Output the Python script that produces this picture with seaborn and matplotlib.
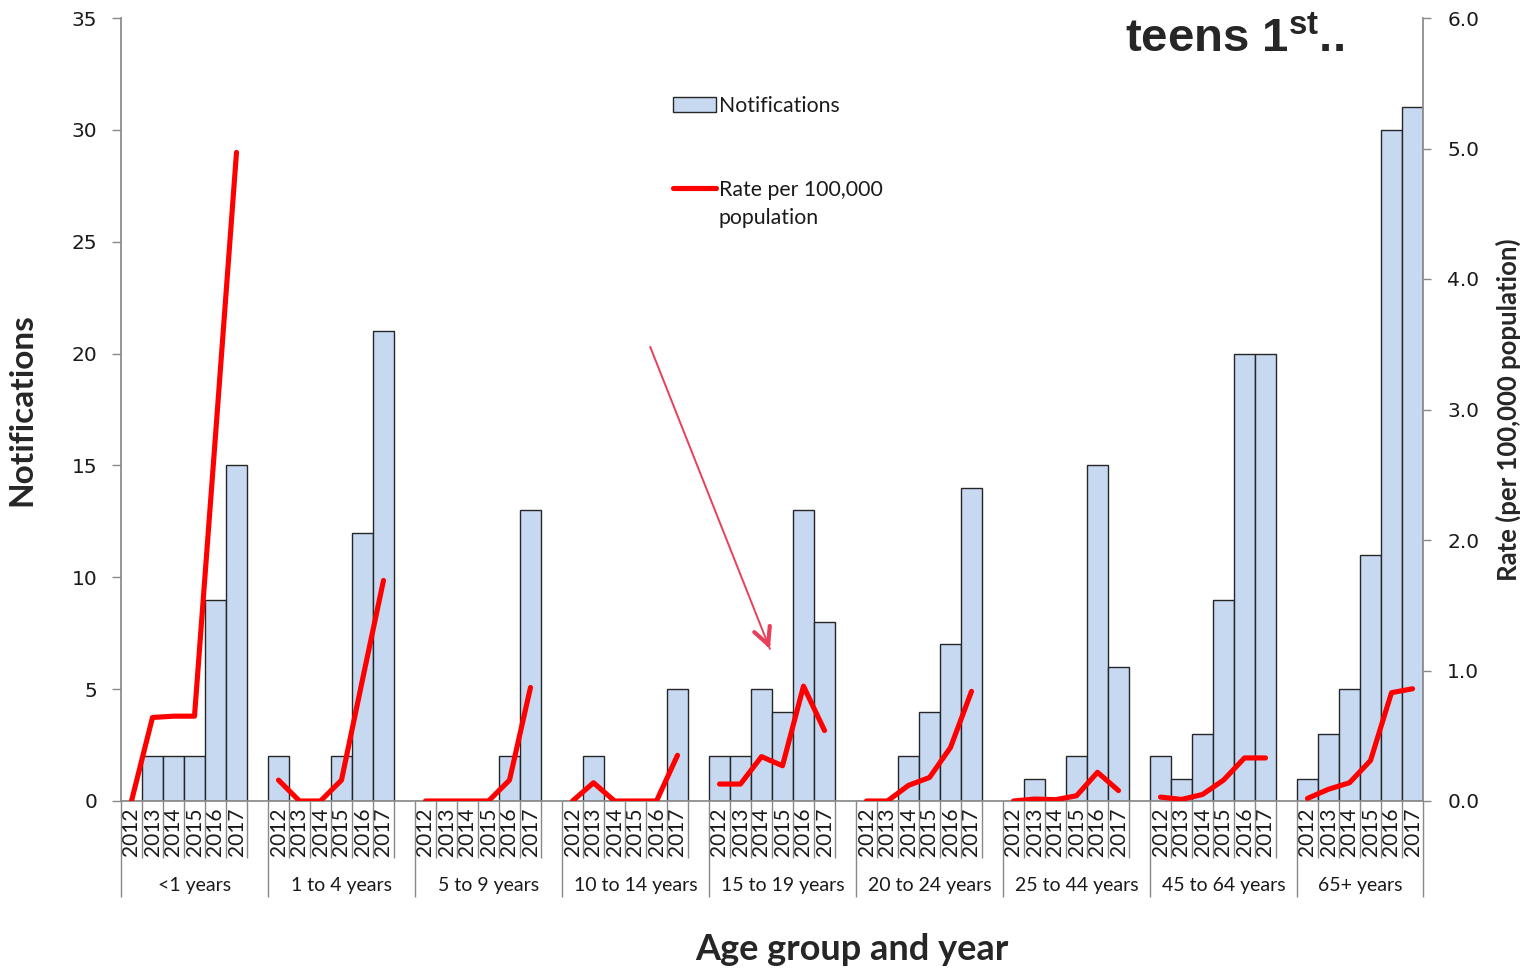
import numpy as np
import pandas as pd
import matplotlib
matplotlib.use("Agg")
import matplotlib.pyplot as plt
from matplotlib.patches import Patch
from matplotlib.lines import Line2D
import seaborn as sns

# ---- data -------------------------------------------------------------
age_groups = ["<1 years", "1 to 4 years", "5 to 9 years", "10 to 14 years",
              "15 to 19 years", "20 to 24 years", "25 to 44 years",
              "45 to 64 years", "65+ years"]
years = ["2012", "2013", "2014", "2015", "2016", "2017"]

# notifications per year, one list per age group
notif_lt1 = [0, 2, 2, 2, 9, 15]
notif_1_4 = [2, 0, 0, 2, 12, 21]
notif_5_9 = [0, 0, 0, 0, 2, 13]
notif_10_14 = [0, 2, 0, 0, 0, 5]
notif_15_19 = [2, 2, 5, 4, 13, 8]
notif_20_24 = [0, 0, 2, 4, 7, 14]
notif_25_44 = [0, 1, 0, 2, 15, 6]
notif_45_64 = [2, 1, 3, 9, 20, 20]
notif_65p = [1, 3, 5, 11, 30, 31]

# rate per 100,000 population, one list per age group
rate_lt1 = [0.0, 0.64, 0.65, 0.65, 2.80, 4.97]
rate_1_4 = [0.16, 0.0, 0.0, 0.16, 0.93, 1.69]
rate_5_9 = [0.0, 0.0, 0.0, 0.0, 0.16, 0.87]
rate_10_14 = [0.0, 0.14, 0.0, 0.0, 0.0, 0.35]
rate_15_19 = [0.13, 0.13, 0.34, 0.27, 0.88, 0.54]
rate_20_24 = [0.0, 0.0, 0.12, 0.18, 0.41, 0.84]
rate_25_44 = [0.0, 0.015, 0.01, 0.04, 0.22, 0.08]
rate_45_64 = [0.03, 0.012, 0.05, 0.16, 0.33, 0.33]
rate_65p = [0.02, 0.09, 0.14, 0.31, 0.83, 0.86]

notifications = [notif_lt1, notif_1_4, notif_5_9, notif_10_14, notif_15_19,
                 notif_20_24, notif_25_44, notif_45_64, notif_65p]
rates = [rate_lt1, rate_1_4, rate_5_9, rate_10_14, rate_15_19,
         rate_20_24, rate_25_44, rate_45_64, rate_65p]

# ---- build category slots (one empty slot between age groups) ---------
order = []
for gi, g in enumerate(age_groups):
    for y in years:
        order.append(f"{g}|{y}")
    if gi < len(age_groups) - 1:
        order.append(f"gap|{gi}")

rows = []
for g, nvals, rvals in zip(age_groups, notifications, rates):
    for y, n, r in zip(years, nvals, rvals):
        key = f"{g}|{y}"
        rows.append({"slot": key, "group": g, "year": y,
                     "pos": order.index(key), "Notifications": n, "rate": r})
df = pd.DataFrame(rows)

# ---- style ------------------------------------------------------------
sns.set_theme(style="white")
plt.rcParams["font.family"] = ["Lato", "DejaVu Sans"]
plt.rcParams["mathtext.fontset"] = "custom"
plt.rcParams["mathtext.rm"] = "Liberation Sans"
plt.rcParams["mathtext.bf"] = "Liberation Sans:bold"

GREY = "#898989"
BAR = "#c6d9f1"
RED = "#ff0000"
TXT = "#1a1a1a"

fig, ax = plt.subplots(figsize=(15.27, 9.73), dpi=100)
fig.subplots_adjust(left=121 / 1527, right=1423 / 1527,
                    bottom=1 - 801 / 973, top=1 - 18 / 973)

sns.barplot(data=df, x="slot", y="Notifications", order=order, color=BAR,
            saturation=1, edgecolor="#262626", linewidth=1.0, width=1.0,
            errorbar=None, ax=ax)

ax2 = ax.twinx()
sns.lineplot(data=df, x="pos", y="rate", units="group", estimator=None,
             color=RED, linewidth=3.7, solid_capstyle="round",
             solid_joinstyle="round", legend=False, ax=ax2)

n_slots = len(order)
ax.set_xlim(-0.5, n_slots - 0.5)
ax.set_ylim(0, 35)
ax2.set_ylim(0, 6)
ax.set_yticks(range(0, 36, 5))
ax2.set_yticks(np.arange(0, 6.01, 1.0))
ax2.yaxis.set_major_formatter("{x:.1f}")

# year labels under each bar
ax.set_xticks(df["pos"].to_numpy())
ax.set_xticklabels(df["year"], rotation=90, fontsize=15, color=TXT)
ax.tick_params(axis="x", length=0, pad=5)

for a in (ax, ax2):
    a.spines["top"].set_visible(False)
ax.spines["right"].set_visible(False)
ax2.spines["left"].set_visible(False)
ax2.spines["bottom"].set_visible(False)
for s in ("left", "bottom"):
    ax.spines[s].set_color(GREY)
ax2.spines["right"].set_color(GREY)

ax.tick_params(axis="y", direction="out", length=6.5, width=1, color=GREY,
               labelsize=14.5, pad=10.5, left=True)
ax2.tick_params(axis="y", direction="out", length=6, width=1, color=GREY,
                labelsize=14.5, pad=11.5, right=True)
for lab in ax.get_yticklabels() + ax2.get_yticklabels():
    lab.set_family("DejaVu Sans")
    lab.set_color(TXT)

# slot boundaries and age-group separators below the axis
xt = ax.get_xaxis_transform()
group_edges = [-0.5] + [gi * 7 - 0.5 for gi in range(1, len(age_groups))] + [n_slots - 0.5]
short_edges = [i - 0.5 for i in range(n_slots + 1) if (i - 0.5) not in group_edges]
ax.vlines(short_edges, -57 / 783, 0, transform=xt, clip_on=False, color=GREY, lw=1)
ax.vlines(group_edges, -96 / 783, 0, transform=xt, clip_on=False, color=GREY, lw=1)
for g, x0, x1 in zip(age_groups, group_edges[:-1], group_edges[1:]):
    ax.text((x0 + x1) / 2, -84 / 783, g, transform=xt, ha="center", va="center",
            fontsize=14, color=TXT)

# axis titles
ax.set_ylabel("Notifications", fontsize=24, fontweight="bold", va="center")
ax.yaxis.set_label_coords(-0.076, 0.5)
ax2.set_ylabel("Rate (per 100,000 population)", fontsize=18.5, fontweight="bold",
               va="center", rotation=90)
ax2.yaxis.set_label_coords(1.0653, 0.5)
ax.set_xlabel("Age group and year", fontsize=26, fontweight="bold", va="center")
ax.xaxis.set_label_coords(0.5614, -149 / 783)

# legend (blank rows keep the two entries apart)
blank = Line2D([], [], color="none")
handles = [Patch(facecolor=BAR, edgecolor="#262626", linewidth=1.0), blank, blank,
           Line2D([], [], color=RED, linewidth=3.7), blank]
labels = ["Notifications", " ", " ", "Rate per 100,000", "population"]
ax2.legend(handles, labels, loc="upper left", bbox_to_anchor=(0.424, 0.9),
           frameon=False, fontsize=15.3, handlelength=2.02, handletextpad=0.14,
           labelspacing=0.37, borderpad=0, borderaxespad=0, labelcolor=TXT)

# annotation arrow pointing at the 15 to 19 years group: thin shaft, bold head
g15 = order.index("15 to 19 years|2012")
tip = np.array([g15 + 2.4, 6.8])
tail = np.array([g15 - 3.3, 20.3])
ax.annotate("", xy=tip, xytext=tail,
            arrowprops=dict(arrowstyle="-", color="#e8405a", lw=1.4,
                            shrinkA=0, shrinkB=0))
ax.annotate("", xy=tip, xytext=tip + (tail - tip) * 0.02,
            arrowprops=dict(arrowstyle="->,head_length=1.0,head_width=0.5",
                            color="#e8405a", lw=3.0, shrinkA=0, shrinkB=0,
                            capstyle="round"))

fig.text(1125 / 1527, 1 - 40 / 973, r"teens 1$^{\mathbf{st}}$..", fontsize=34,
         fontweight="bold", family="Liberation Sans", ha="left", va="center")

fig.savefig("out.png", dpi=100)
